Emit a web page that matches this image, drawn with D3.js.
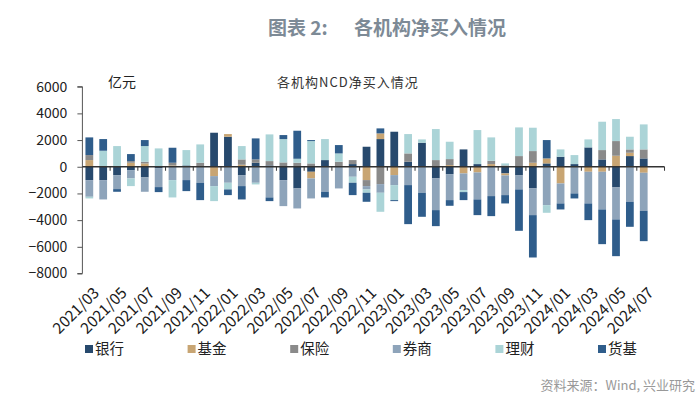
<!DOCTYPE html>
<html><head><meta charset="utf-8">
<script src="https://cdn.jsdelivr.net/npm/d3@7"></script>
<style>
html,body{margin:0;padding:0;background:#fff;}
svg{display:block;}
text{font-family:"Noto Sans CJK SC","Noto Sans",sans-serif;}
</style></head>
<body>
<svg id="c" width="700" height="408"></svg>
<script>
const months = ["2021/03","2021/04","2021/05","2021/06","2021/07","2021/08","2021/09","2021/10","2021/11","2021/12",
"2022/01","2022/02","2022/03","2022/04","2022/05","2022/06","2022/07","2022/08","2022/09","2022/10","2022/11","2022/12",
"2023/01","2023/02","2023/03","2023/04","2023/05","2023/06","2023/07","2023/08","2023/09","2023/10","2023/11","2023/12",
"2024/01","2024/02","2024/03","2024/04","2024/05","2024/06","2024/07"];
const seriesNames = ["银行","基金","保险","券商","理财","货基"];
const bank   = [-1000,-1000,-625,-250,-800,-100,0,100,0,2550,2250,-625,300,100,-1000,-1625,-375,500,0,200,1500,2075,2625,375,1800,-875,-550,1300,200,0,-500,-650,-1625,250,750,200,1450,550,-1550,800,625];
const fund   = [500,0,0,300,250,0,100,0,0,-700,200,150,0,0,0,0,-500,0,0,0,-1000,425,-625,0,0,0,125,-500,-425,200,-150,0,300,375,-1250,0,-375,-375,825,250,-450];
const insur  = [375,0,0,125,125,0,200,0,300,0,0,400,250,325,325,300,250,0,375,300,-450,-1300,0,625,0,500,450,0,0,250,100,800,875,0,0,0,0,700,1100,250,675];
const broker = [-1250,-1450,-1050,-625,-1075,-1425,-1000,-1000,-1200,-750,-1200,-825,-1200,-2300,-1950,-1500,-1500,-1875,-1625,-750,-250,-650,-750,-1375,-1950,-2375,-1950,-1250,-2025,-2200,-1475,-1050,-2000,-2875,-1500,-2000,-2375,-2825,-2400,-2625,-2850];
const wealth = [-125,1200,1550,-575,1175,1375,-1300,1150,1375,-1125,-500,1000,-125,2000,1750,300,1675,1575,625,-450,-250,-1425,-1125,1450,250,2325,1300,-150,2550,1750,150,2150,1750,-575,550,675,600,2125,1650,950,1875];
const mmf    = [1325,875,-200,525,450,-375,1125,-825,-1300,0,-425,-1000,1575,-275,300,2100,75,-425,625,-925,-675,375,-75,-2925,-1800,-1200,-425,-600,-1175,-1500,-625,-3100,-3175,1375,-450,-375,-1250,-2600,-2750,-1875,-2275];
const tickLabels = ["2021/03","2021/05","2021/07","2021/09","2021/11","2022/01","2022/03","2022/05","2022/07","2022/09","2022/11",
"2023/01","2023/03","2023/05","2023/07","2023/09","2023/11","2024/01","2024/03","2024/05","2024/07"];
const yTicks = [6000,4000,2000,0,-2000,-4000,-6000,-8000];
const colors = ["#27496d","#c8a573","#8a8a8a","#8ea4ba","#abd4d7","#2f5d8b"];

const table = months.map((m,i)=>({month:m,"银行":bank[i],"基金":fund[i],"保险":insur[i],"券商":broker[i],"理财":wealth[i],"货基":mmf[i]}));

const svg = d3.select("#c");
const left = 82.4, step = 13.86;
const x = d3.scaleBand().domain(months).range([left, left + step*months.length]).paddingInner(0.44).paddingOuter(0.22);
const y = d3.scaleLinear().domain([-8000,6000]).range([273.5,86.7]);
const color = d3.scaleOrdinal().domain(seriesNames).range(colors);

const stack = d3.stack().keys(seriesNames).order(d3.stackOrderNone).offset(d3.stackOffsetDiverging);
const layers = stack(table);

svg.append("g").selectAll("g").data(layers).join("g")
  .attr("fill", d=>color(d.key))
  .selectAll("rect").data(d=>d).join("rect")
  .attr("x", d=>x(d.data.month))
  .attr("width", x.bandwidth())
  .attr("y", d=>y(Math.max(d[0],d[1])))
  .attr("height", d=>Math.abs(y(d[0])-y(d[1])));

// y axis
const yAxis = svg.append("g").attr("transform",`translate(${left},0)`)
  .call(d3.axisLeft(y).tickValues(yTicks).tickSize(5).tickPadding(10).tickFormat(d3.format("d")));
yAxis.select(".domain").attr("stroke","#555").attr("d",`M-5,${y(6000)}H0V${y(-8000)}H-5`);
yAxis.selectAll(".tick line").attr("stroke","#555");
yAxis.selectAll(".tick text").attr("font-size",14).attr("fill","#222").attr("font-family","Liberation Sans, Arial, sans-serif");

// zero axis line with ticks every 2 months
const axisEnd = left + step*(months.length+1);
svg.append("line").attr("x1",left).attr("x2",axisEnd).attr("y1",y(0)).attr("y2",y(0)).attr("stroke","#333").attr("stroke-width",1.3);
const tickX = d3.range(2, months.length+2, 2).map(k=>left + step*k);
svg.append("g").selectAll("line").data(tickX).join("line")
  .attr("x1",d=>d).attr("x2",d=>d).attr("y1",y(0)).attr("y2",y(0)+4).attr("stroke","#333");

// x labels
svg.append("g").selectAll("text").data(tickLabels).join("text")
  .attr("transform",d=>`translate(${x(d)+x.bandwidth()/2+7},${290}) rotate(-45)`)
  .attr("text-anchor","end").attr("dy","0.35em")
  .attr("font-size",15.5).attr("fill","#1a1a1a").attr("font-family","Liberation Sans, Arial, sans-serif")
  .text(d=>d);

// titles
svg.append("text").attr("x",268).attr("y",35).attr("font-size",19).attr("font-weight","bold").attr("fill","#7d8a96").text("图表 2:");
svg.append("text").attr("x",354).attr("y",35).attr("font-size",19).attr("font-weight","bold").attr("fill","#7d8a96").text("各机构净买入情况");
svg.append("text").attr("x",277).attr("y",87).attr("font-size",13).attr("letter-spacing","1px").attr("fill","#333").text("各机构NCD净买入情况");
svg.append("text").attr("x",108).attr("y",87).attr("font-size",14).attr("fill","#222").text("亿元");

// legend
const lg = svg.append("g").selectAll("g").data(seriesNames).join("g")
  .attr("transform",(d,i)=>`translate(${85 + i*102.6},349)`);
lg.append("rect").attr("x",0).attr("y",-4).attr("width",8).attr("height",8).attr("fill",d=>color(d));
lg.append("text").attr("x",10).attr("y",0).attr("dy","0.36em").attr("font-size",14.5).attr("fill","#222").text(d=>d);

// source
svg.append("text").attr("x",695).attr("y",390).attr("text-anchor","end").attr("font-size",13).attr("fill","#999").text("资料来源：Wind, 兴业研究");
</script>
</body></html>
